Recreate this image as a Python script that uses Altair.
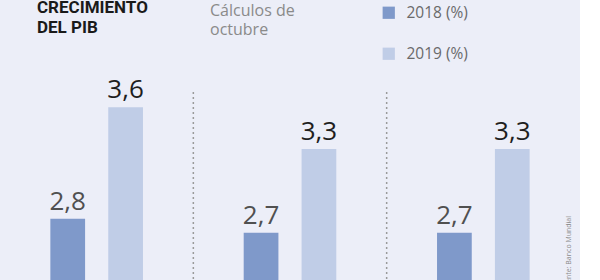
import altair as alt
import pandas as pd

groups = ["Grupo 1", "Grupo 2", "Grupo 3"]
series = ["2018 (%)", "2019 (%)"]
values_2018 = [2.8, 2.7, 2.7]
values_2019 = [3.6, 3.3, 3.3]
colors = ["#7f99ca", "#c0cde7"]
label_colors = ["#505050", "#1e1e1e"]

rows = []
for g, a, b in zip(groups, values_2018, values_2019):
    rows.append({"grupo": g, "serie": series[0], "valor": a, "etiqueta": f"{a:.1f}".replace(".", ",")})
    rows.append({"grupo": g, "serie": series[1], "valor": b, "etiqueta": f"{b:.1f}".replace(".", ",")})
df = pd.DataFrame(rows)

seps = pd.DataFrame({"grupo": groups[1:]})

xenc = alt.X("grupo:N", sort=groups, axis=None,
             scale=alt.Scale(paddingInner=0, paddingOuter=0))
xoff = alt.XOffset("serie:N", sort=series,
                   scale=alt.Scale(paddingInner=0.4, paddingOuter=0.87))
yscale = alt.Scale(domain=[2.36, 4.37], zero=False, nice=False)

bars = alt.Chart(df).mark_bar(clip=True).encode(
    x=xenc,
    xOffset=xoff,
    y=alt.Y("valor:Q", scale=yscale, axis=None),
    y2=alt.value(280),
    color=alt.Color("serie:N", sort=series,
                    scale=alt.Scale(domain=series, range=colors),
                    legend=alt.Legend(title=None, orient="none", legendX=381, legendY=5,
                                      symbolType="square", symbolSize=150,
                                      symbolStrokeWidth=0, symbolOpacity=1,
                                      labelFontSize=15.5, labelColor="#6a6a6a",
                                      labelFont="Open Sans", labelOffset=10,
                                      rowPadding=24)),
)

labels = alt.Chart(df).mark_text(baseline="alphabetic", dy=-9, fontSize=26,
                                 font="Open Sans").encode(
    x=xenc,
    xOffset=xoff,
    y=alt.Y("valor:Q", scale=yscale, axis=None),
    text="etiqueta:N",
    color=alt.Color("serie:N", scale=alt.Scale(domain=series, range=label_colors), legend=None),
)

rules = alt.Chart(seps).mark_rule(strokeDash=[2, 3], color="#9a9a9a", strokeWidth=1.5).encode(
    x=alt.X("grupo:N", sort=groups, bandPosition=0),
    y=alt.value(92),
    y2=alt.value(280),
)

title_df = pd.DataFrame({"t": ["CRECIMIENTO", "DEL PIB"], "y": [13, 33]})
title = alt.Chart(title_df).mark_text(align="left", baseline="alphabetic", fontSize=17,
                                      fontWeight="bold", font="Roboto", color="#1a1a1a").encode(
    x=alt.value(37), y=alt.Y("y:Q", scale=None, axis=None), text="t:N")

sub_df = pd.DataFrame({"t": ["Cálculos de", "octubre"], "y": [16, 35]})
sub = alt.Chart(sub_df).mark_text(align="left", baseline="alphabetic", fontSize=16,
                                  font="Open Sans", color="#8a8a8a").encode(
    x=alt.value(210), y=alt.Y("y:Q", scale=None, axis=None), text="t:N")

src = alt.Chart(pd.DataFrame({"t": ["Fuente: Banco Mundial"]})).mark_text(
    align="right", baseline="middle", angle=270, fontSize=7, font="Open Sans",
    color="#8a8a8a").encode(x=alt.value(569), y=alt.value(216), text="t:N")

chart = alt.layer(bars, labels, rules, title, sub, src).resolve_scale(
    color="independent", y="independent"
).properties(
    width=580, height=280, padding=0,
    autosize=alt.AutoSizeParams(type="none"),
    background="#eceef8",
).configure_view(stroke=None)

chart.save("out.html", embed_options={"renderer": "svg", "actions": False})
